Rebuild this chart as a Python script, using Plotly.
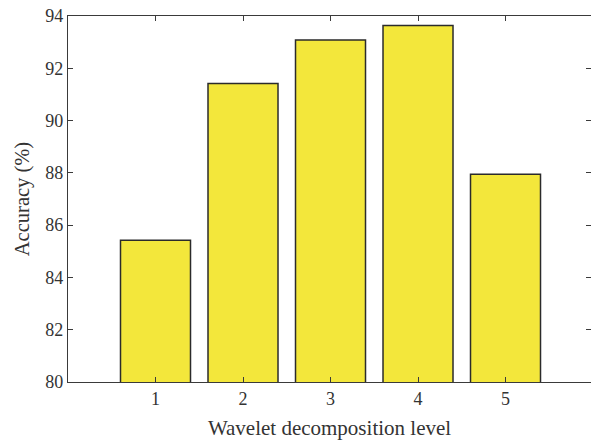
import plotly.graph_objects as go

levels = [1, 2, 3, 4, 5]
accuracy = [85.42, 91.42, 93.08, 93.64, 87.95]
y_ticks = [80, 82, 84, 86, 88, 90, 92, 94]

font_family = "Liberation Serif, Times New Roman, serif"
axis_color = "#3a3a3a"

fig = go.Figure()
fig.add_trace(go.Bar(
    x=levels, y=accuracy, width=0.8,
    marker=dict(color="#F3E73B", line=dict(color="#2b2b2b", width=1.5)),
    showlegend=False,
))

fig.update_layout(
    width=591, height=441,
    margin=dict(l=68, r=0, t=16, b=59),
    paper_bgcolor="white", plot_bgcolor="white",
    font=dict(family=font_family, size=18, color="#333333"),
    bargap=0.2,
)
fig.update_xaxes(
    range=[0, 5.977], tickvals=levels, ticktext=[str(v) for v in levels],
    ticks="inside", ticklen=5, tickwidth=1, tickcolor=axis_color,
    showline=True, linecolor=axis_color, linewidth=1.3, mirror="ticks",
    showgrid=False, zeroline=False,
    title=dict(text="Wavelet decomposition level", standoff=12,
               font=dict(size=21)),
)
fig.update_yaxes(
    range=[80, 94], tickvals=y_ticks,
    ticks="inside", ticklen=5, tickwidth=1, tickcolor=axis_color,
    showline=True, linecolor=axis_color, linewidth=1.3, mirror="ticks",
    showgrid=False, zeroline=False,
    title=dict(text="Accuracy (%)", standoff=10, font=dict(size=20.5)),
)

fig.write_html("out.html")
